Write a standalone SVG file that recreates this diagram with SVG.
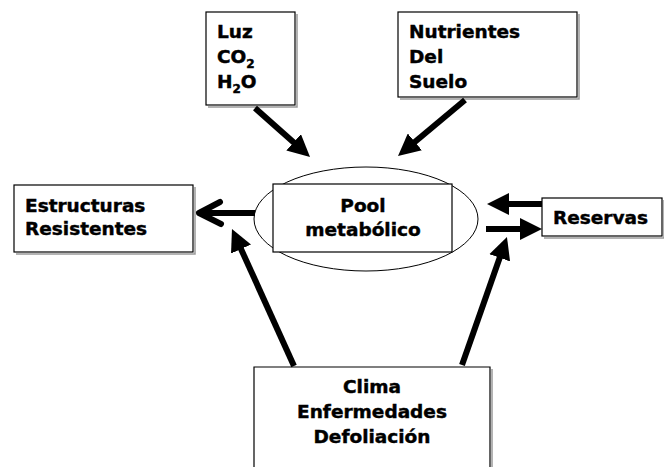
<svg xmlns="http://www.w3.org/2000/svg" width="664" height="467" viewBox="0 0 664 467">
<style>
text{font-family:"DejaVu Sans","Liberation Sans",sans-serif;font-weight:bold;font-size:18.5px;fill:#000;stroke:#000;stroke-width:0.45}
.box{fill:#fff;stroke:#000;stroke-width:1.2}
.sh{fill:none;stroke:#9a9a9a;stroke-width:1.5}
.conn{fill:none;stroke:#000;stroke-width:6}
.mid{text-anchor:middle}
.sub{font-size:12px}
</style>
<defs>
<marker id="head" markerUnits="userSpaceOnUse" markerWidth="22" markerHeight="22" refX="4" refY="11" orient="auto">
<path d="M0,0 L22,11 L0,22 z" fill="#000"/>
</marker>
</defs>
<rect width="664" height="467" fill="#fff"/>

<g id="luz">
<path class="sh" d="M297,14 V107 H208"/>
<rect class="box" x="206" y="12" width="89" height="93"/>
<text x="217" y="38">Luz</text>
<text x="217" y="63">CO<tspan class="sub" dy="5">2</tspan></text>
<text x="217" y="88">H<tspan class="sub" dy="5">2</tspan><tspan dy="-5">O</tspan></text>
</g>

<g id="nutrientes">
<path class="sh" d="M579,14 V99 H400"/>
<rect class="box" x="398" y="12" width="179" height="85"/>
<text x="409" y="38">Nutrientes</text>
<text x="409" y="63">Del</text>
<text x="409" y="88">Suelo</text>
</g>

<g id="estructuras">
<path class="sh" d="M195,187 V254 H16"/>
<rect class="box" x="14" y="185" width="179" height="67"/>
<text x="25" y="212">Estructuras</text>
<text x="25" y="235">Resistentes</text>
</g>

<g id="pool">
<ellipse cx="366" cy="219" rx="112" ry="52" fill="#fff" stroke="#000" stroke-width="1"/>
<rect class="box" x="273" y="184" width="179" height="68"/>
<text class="mid" x="363" y="212">Pool</text>
<text class="mid" x="363" y="236">metabólico</text>
</g>

<g id="reservas">
<path class="sh" d="M664,200 V238 H544"/>
<rect class="box" x="542" y="198" width="120" height="38"/>
<text x="553" y="224">Reservas</text>
</g>

<g id="clima">
<path class="sh" d="M492,369 V467"/>
<path d="M254,467 V367 H490 V467" fill="#fff" stroke="#000" stroke-width="1.2"/>
<text class="mid" x="372" y="393">Clima</text>
<text class="mid" x="372" y="418">Enfermedades</text>
<text class="mid" x="372" y="443">Defoliación</text>
</g>

<g id="connectors">
<path class="conn" d="M255,108 L296.6,145" marker-end="url(#head)"/>
<path class="conn" d="M465,100 L411.8,144.5" marker-end="url(#head)"/>
<path class="conn" d="M542,204 L505,204" marker-end="url(#head)"/>
<path class="conn" d="M486,229 L524,229" marker-end="url(#head)"/>
<path class="conn" d="M294,366 L239.4,245.4" marker-end="url(#head)"/>
<path class="conn" d="M462,365 L501,254" marker-end="url(#head)"/>
<path class="conn" d="M255,213 L200,213"/>
<path class="conn" d="M220,202 L199,213 L221,224" stroke-linecap="round" stroke-linejoin="round"/>
</g>
</svg>
